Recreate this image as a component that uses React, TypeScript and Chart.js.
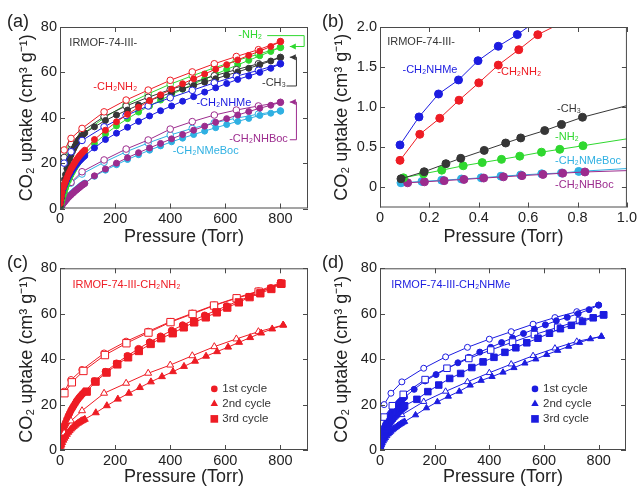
import React, { useEffect, useRef } from 'react';
import { Chart, registerables } from 'chart.js';

Chart.register(...registerables);

const FONT = '"Liberation Sans", Arial, Helvetica, sans-serif';
const TEXT = '#222222';
const FRAME = '#4a4a4a';
const RED = '#ee1c24';
const GREEN = '#2fd82f';
const GRAY = '#363636';
const BLUE = '#1c1ce0';
const PURPLE = '#9c2c8e';
const CYAN = '#2fb0e2';

// ---------- pressure grids (Torr) ----------
const P_LOW = [1, 3, 5, 8, 12, 16, 20, 25, 30, 35, 40, 45, 50, 55, 60, 65, 70, 75, 80, 85, 90];
const P_HIGH = [125, 165, 205, 245, 285, 325, 365, 405, 445, 485, 525, 565, 605, 645, 685, 725, 765, 800];
const P_DES = [800, 720, 640, 560, 480, 400, 320, 240, 160, 80, 40, 15];
const P2_HIGH = [130, 170, 210, 250, 290, 330, 370, 410, 450, 490, 530, 570, 610, 650, 690, 730, 770, 810];
const P2_DES = [810, 720, 640, 560, 480, 400, 320, 240, 160, 80, 40, 15];

// ---------- panel (a): uptake (cm3/g) ----------
const CH2NH2_LOW = [2.2, 4.0, 5.5, 7.3, 9.3, 10.8, 12.0, 13.5, 15.0, 16.2, 17.5, 18.5, 19.5, 20.5, 21.5, 22.3, 23.1, 23.8, 24.5, 25.1, 25.7];
const CH2NH2_HIGH = [30.4, 34.5, 38.2, 41.5, 44.6, 47.5, 50.1, 52.6, 55.0, 57.2, 59.3, 61.4, 63.4, 65.5, 67.5, 69.4, 71.4, 73.6];
const CH2NH2_DES = [73.6, 70.0, 67.0, 63.8, 60.2, 56.5, 52.2, 47.8, 42.6, 35.3, 30.9, 25.8];

const NH2_LOW = [0.6, 1.6, 2.6, 4.0, 5.8, 7.4, 8.9, 10.6, 12.2, 13.6, 14.9, 16.1, 17.2, 18.2, 19.2, 20.1, 21.0, 21.8, 22.6, 23.3, 24.0];
const NH2_HIGH = [28.6, 32.8, 36.4, 39.6, 42.5, 45.2, 47.8, 50.2, 52.6, 54.9, 57.1, 59.2, 61.3, 63.3, 65.3, 67.3, 69.2, 71.0];
const NH2_DES = [71.0, 68.0, 65.2, 62.0, 58.5, 54.8, 50.5, 45.8, 40.0, 32.5, 27.0, 21.0];

const CH3_LOW = [1.0, 2.9, 4.7, 7.3, 10.2, 12.8, 15.0, 17.6, 19.9, 21.9, 23.6, 25.1, 26.4, 27.6, 28.7, 29.6, 30.5, 31.3, 32.0, 32.7, 33.3];
const CH3_HIGH = [36.0, 38.8, 41.2, 43.4, 45.6, 47.6, 49.4, 51.1, 52.7, 54.2, 55.7, 57.2, 58.7, 60.2, 61.8, 63.4, 65.0, 66.6];
const CH3_DES = [66.6, 63.8, 61.2, 58.5, 55.5, 52.4, 49.0, 45.2, 40.5, 34.0, 28.5, 22.5];

const NHME_LOW = [2.8, 4.5, 5.6, 7.0, 8.6, 10.0, 11.2, 12.6, 13.9, 15.0, 16.0, 17.0, 17.9, 18.7, 19.5, 20.2, 20.9, 21.5, 22.1, 22.7, 23.2];
const NHME_HIGH = [26.7, 30.4, 33.2, 35.8, 38.4, 40.8, 43.1, 45.2, 47.3, 49.3, 51.3, 53.2, 55.1, 56.9, 58.4, 60.0, 61.8, 63.8];
const NHME_DES = [63.8, 60.9, 58.3, 55.4, 52.1, 48.8, 45.2, 41.0, 36.0, 30.0, 25.0, 20.0];

const NHBOC_LOW = [0.2, 0.6, 1.0, 1.5, 2.2, 2.8, 3.4, 4.1, 4.8, 5.4, 6.0, 6.6, 7.1, 7.7, 8.2, 8.7, 9.2, 9.7, 10.2, 10.6, 11.0];
const NHBOC_HIGH = [14.4, 17.4, 20.0, 22.4, 24.6, 26.7, 28.7, 30.7, 32.6, 34.5, 36.3, 38.0, 39.6, 41.2, 42.7, 44.2, 45.5, 46.8];
const NHBOC_DES = [46.8, 45.2, 43.4, 41.2, 38.3, 35.0, 30.2, 26.2, 21.4, 16.2, 11.5, 6.0];

const NMEBOC_LOW = [0.23, 0.7, 1.1, 1.7, 2.4, 3.0, 3.6, 4.3, 5.0, 5.6, 6.2, 6.8, 7.4, 7.9, 8.4, 8.9, 9.4, 9.9, 10.4, 10.8, 11.2];
const NMEBOC_HIGH = [14.2, 16.9, 19.3, 21.6, 23.7, 25.7, 27.6, 29.4, 31.0, 32.6, 34.1, 35.6, 37.0, 38.4, 39.7, 41.0, 42.0, 43.0];
const NMEBOC_DES = [43.0, 41.6, 39.8, 37.8, 35.3, 32.4, 28.9, 25.0, 20.4, 15.2, 11.2, 6.8];

// ---------- panel (b): low pressure (Torr) ----------
const B_NHME_P = [0.081, 0.158, 0.237, 0.318, 0.397, 0.479, 0.556, 0.64];
const B_NHME_U = [0.53, 0.879, 1.165, 1.34, 1.58, 1.76, 1.905, 2.09];
const B_CH2NH2_P = [0.081, 0.161, 0.242, 0.32, 0.4, 0.479, 0.562, 0.639, 0.76];
const B_CH2NH2_U = [0.3375, 0.6625, 0.8625, 1.0875, 1.304, 1.525, 1.717, 1.904, 2.09];
const B_CH3_P = [0.085, 0.179, 0.267, 0.327, 0.422, 0.509, 0.57, 0.667, 0.735, 0.82, 1.05];
const B_CH3_U = [0.108, 0.196, 0.296, 0.363, 0.462, 0.554, 0.617, 0.709, 0.784, 0.875, 1.06];
const B_NH2_P = [0.095, 0.176, 0.25, 0.337, 0.414, 0.492, 0.566, 0.654, 0.728, 0.822, 1.05];
const B_NH2_U = [0.12, 0.17, 0.215, 0.27, 0.31, 0.35, 0.39, 0.44, 0.475, 0.52, 0.63];
const B_NMEBOC_P = [0.085, 0.17, 0.25, 0.33, 0.41, 0.49, 0.57, 0.655, 0.735, 0.805, 1.05];
const B_NMEBOC_U = [0.058, 0.075, 0.09, 0.105, 0.12, 0.14, 0.155, 0.17, 0.18, 0.2, 0.245];
const B_NHBOC_P = [0.112, 0.18, 0.26, 0.34, 0.42, 0.5, 0.575, 0.66, 0.74, 0.83, 1.05];
const B_NHBOC_U = [0.058, 0.07, 0.085, 0.1, 0.117, 0.132, 0.147, 0.162, 0.178, 0.193, 0.215];

// ---------- panel (c): IRMOF-74-III-CH2NH2 cycles ----------
const C2_LOW = [0.8, 1.7, 2.4, 3.3, 4.3, 5.2, 6.0, 6.9, 7.8, 8.5, 9.2, 9.8, 10.4, 10.9, 11.4, 11.8, 12.2, 12.6, 12.9, 13.2, 13.5];
const C2_HIGH = [16.4, 19.5, 22.4, 25.0, 27.5, 30.0, 32.3, 34.5, 36.8, 39.1, 41.3, 43.3, 45.3, 47.4, 49.5, 51.5, 53.3, 55.0];
const C2_DES = [55.0, 52.1, 48.9, 45.5, 41.5, 37.4, 33.8, 29.4, 25.0, 17.3, 12.8, 7.5];
const C3_P = [97, 129, 169, 208, 247, 286, 329, 367, 409, 449, 487, 529, 569, 607, 649, 688, 727, 767, 803];
const C3_U = [25.7, 30.1, 34.1, 37.7, 40.8, 43.6, 46.7, 49.2, 51.4, 54.0, 56.2, 58.4, 60.6, 62.7, 65.0, 67.3, 69.0, 70.9, 73.2];
const C3_DES_P = [803, 721, 641, 559, 481, 401, 321, 241, 163, 85, 43, 16];
const C3_DES_U = [73.2, 69.7, 66.8, 63.6, 59.9, 56.3, 51.7, 47.0, 41.8, 34.8, 29.8, 25.0];

// ---------- panel (d): IRMOF-74-III-CH2NHMe cycles ----------
const D2_LOW = [0.8, 1.6, 2.2, 3.0, 3.9, 4.7, 5.4, 6.2, 7.0, 7.6, 8.2, 8.8, 9.3, 9.8, 10.2, 10.7, 11.1, 11.5, 11.8, 12.2, 12.5];
const D2_HIGH = [15.4, 18.5, 21.2, 23.6, 25.8, 28.5, 30.6, 32.3, 34.2, 36.2, 38.2, 40.0, 42.0, 43.8, 45.6, 47.3, 48.9, 50.0];
const D2_DES = [50.0, 47.8, 44.8, 41.5, 37.8, 34.0, 30.0, 25.8, 21.3, 15.5, 11.0, 6.0];
const D3_P_HIGH = [135, 175, 215, 255, 295, 336, 377, 417, 457, 497, 537, 578, 620, 660, 700, 741, 780, 818];
const D3_LOW = [1.5, 3.0, 4.0, 5.3, 6.8, 8.0, 9.1, 10.3, 11.4, 12.3, 13.2, 14.0, 14.8, 15.5, 16.2, 16.8, 17.4, 18.0, 18.5, 19.0, 19.5];
const D3_HIGH = [22.3, 25.7, 28.6, 31.5, 33.7, 36.3, 38.8, 40.8, 43.0, 45.0, 47.2, 49.2, 51.4, 53.4, 54.9, 56.6, 58.2, 59.5];
const D3_DES_P = [818, 730, 650, 565, 485, 405, 325, 245, 165, 85, 45, 15];
const D3_DES_U = [59.5, 57.0, 54.0, 50.8, 47.5, 44.0, 40.3, 36.0, 31.0, 24.5, 19.5, 14.5];

// ---------- axis ticks ----------
const TORR_TICKS = [0, 200, 400, 600, 800];
const UPTAKE_TICKS = [0, 20, 40, 60, 80];
const LOWP_TICKS = [0, 0.2, 0.4, 0.6, 0.8, 1.0];
const LOWU_TICKS = [0, 0.5, 1.0, 1.5, 2.0];
const CYCLE_NAMES = ['1st cycle', '2nd cycle', '3rd cycle'];

const P_ADS = [...P_LOW, ...P_HIGH];
const P2_ADS = [...P_LOW, ...P2_HIGH];
const D3_P = [...P_LOW, ...D3_P_HIGH];

type Pt = { x: number; y: number };
const pts = (xs: number[], ys: number[]): Pt[] => xs.map((x, i) => ({ x, y: ys[i] }));

function series(xs: number[], ys: number[], color: string, style: string, open: boolean, r: number, order: number) {
  return {
    data: pts(xs, ys),
    showLine: true,
    borderColor: color,
    borderWidth: 1,
    backgroundColor: open ? '#ffffff' : color,
    pointStyle: style,
    pointRadius: r,
    pointHoverRadius: r,
    pointBorderColor: color,
    pointBackgroundColor: open ? '#ffffff' : color,
    pointBorderWidth: 1,
    tension: 0,
    order,
  };
}

const intFmt = (v: number) => String(v);
const decFmt = (v: number) => (v === 0 ? '0' : v.toFixed(1));

type Label = { text: string; x: number; y: number; color: string; size?: number };
type Bracket = { color: string; path: number[][] };
type Spec = {
  key: string;
  left: number; top: number; w: number; h: number;
  area: { left: number; right: number; top: number; bottom: number };
  x: { min: number; max: number; ticks: number[]; fmt: (v: number) => string };
  y: { min: number; max: number; ticks: number[]; fmt: (v: number) => string };
  yTitlePad: number;
  letter: string; letterX: number; letterY: number;
  datasets: any[];
  labels: Label[];
  brackets: Bracket[];
  legend?: { x: number; y: number; color: string; sizes: number[] };
};

function drawMarker(ctx: CanvasRenderingContext2D, style: string, x: number, y: number, r: number, color: string) {
  ctx.beginPath();
  if (style === 'circle') {
    ctx.arc(x, y, r, 0, Math.PI * 2);
  } else if (style === 'triangle') {
    ctx.moveTo(x, y - r);
    ctx.lineTo(x + r * 0.866, y + r * 0.5);
    ctx.lineTo(x - r * 0.866, y + r * 0.5);
    ctx.closePath();
  } else {
    const h = r * Math.SQRT1_2;
    ctx.rect(x - h, y - h, 2 * h, 2 * h);
  }
  ctx.fillStyle = color;
  ctx.fill();
}

function decor(s: Spec) {
  return {
    id: 'decor_' + s.key,
    afterDraw(chart: any) {
      const { ctx, chartArea: a, scales } = chart;
      const xs = scales.x;
      const ys = scales.y;
      ctx.save();
      // frame
      ctx.strokeStyle = FRAME;
      ctx.lineWidth = 1;
      ctx.strokeRect(a.left + 0.5, a.top + 0.5, a.right - a.left - 1, a.bottom - a.top - 1);
      // inward ticks on all four sides
      ctx.beginPath();
      for (const v of s.x.ticks) {
        const p = Math.round(xs.getPixelForValue(v)) + 0.5;
        ctx.moveTo(p, a.bottom);
        ctx.lineTo(p, a.bottom - 5);
        ctx.moveTo(p, a.top);
        ctx.lineTo(p, a.top + 5);
      }
      for (const v of s.y.ticks) {
        const p = Math.round(ys.getPixelForValue(v)) + 0.5;
        ctx.moveTo(a.left, p);
        ctx.lineTo(a.left + 5, p);
        ctx.moveTo(a.right, p);
        ctx.lineTo(a.right - 5, p);
      }
      ctx.stroke();
      // brackets with arrowheads
      for (const b of s.brackets) {
        ctx.strokeStyle = b.color;
        ctx.fillStyle = b.color;
        ctx.lineWidth = 1;
        ctx.beginPath();
        b.path.forEach((q, i) => {
          const px = xs.getPixelForValue(q[0]);
          const py = ys.getPixelForValue(q[1]);
          if (i === 0) ctx.moveTo(px, py);
          else ctx.lineTo(px, py);
        });
        ctx.stroke();
        const tip = b.path[b.path.length - 1];
        const tx = xs.getPixelForValue(tip[0]);
        const ty = ys.getPixelForValue(tip[1]);
        ctx.beginPath();
        ctx.moveTo(tx, ty);
        ctx.lineTo(tx + 6, ty - 3);
        ctx.lineTo(tx + 6, ty + 3);
        ctx.closePath();
        ctx.fill();
      }
      // text labels
      ctx.textAlign = 'left';
      ctx.textBaseline = 'middle';
      for (const l of s.labels) {
        ctx.font = `${l.size || 11}px ${FONT}`;
        ctx.fillStyle = l.color;
        ctx.fillText(l.text, xs.getPixelForValue(l.x), ys.getPixelForValue(l.y));
      }
      // legend
      if (s.legend) {
        const lx = xs.getPixelForValue(s.legend.x);
        const ly = ys.getPixelForValue(s.legend.y);
        const styles = ['circle', 'triangle', 'rect'];
        styles.forEach((st, i) => {
          const yy = ly + i * 15;
          drawMarker(ctx, st, lx, yy, s.legend!.sizes[i], s.legend!.color);
          ctx.font = `11.5px ${FONT}`;
          ctx.fillStyle = '#333333';
          ctx.fillText(CYCLE_NAMES[i], lx + 8, yy);
        });
      }
      // panel letter
      ctx.font = `18px ${FONT}`;
      ctx.fillStyle = TEXT;
      ctx.fillText(s.letter, s.letterX, s.letterY);
      ctx.restore();
    },
  };
}

function buildConfig(s: Spec): any {
  const tickFont = { family: FONT, size: 14.5 };
  return {
    type: 'scatter',
    data: { datasets: s.datasets },
    options: {
      animation: false,
      responsive: false,
      events: [],
      layout: { padding: { left: 0, right: s.w - s.area.right, top: s.area.top, bottom: 0 } },
      plugins: { legend: { display: false }, tooltip: { enabled: false } },
      scales: {
        x: {
          type: 'linear',
          position: 'bottom',
          min: s.x.min,
          max: s.x.max,
          afterBuildTicks: (sc: any) => { sc.ticks = s.x.ticks.map((v) => ({ value: v })); },
          afterFit: (sc: any) => { sc.height = s.h - s.area.bottom; },
          grid: { display: false, drawTicks: false },
          border: { display: false },
          ticks: { font: tickFont, color: TEXT, padding: 2, maxRotation: 0, autoSkip: false, callback: (v: number) => s.x.fmt(v) },
          title: { display: true, text: 'Pressure (Torr)', font: { family: FONT, size: 18 }, color: TEXT, padding: { top: 0, bottom: 2.5 } },
        },
        y: {
          type: 'linear',
          position: 'left',
          min: s.y.min,
          max: s.y.max,
          afterBuildTicks: (sc: any) => { sc.ticks = s.y.ticks.map((v) => ({ value: v })); },
          afterFit: (sc: any) => { sc.width = s.area.left; },
          grid: { display: false, drawTicks: false },
          border: { display: false },
          ticks: { font: tickFont, color: TEXT, padding: 3, autoSkip: false, callback: (v: number) => s.y.fmt(v) },
          title: { display: true, text: 'CO₂ uptake (cm³ g⁻¹)', font: { family: FONT, size: 18 }, color: TEXT, padding: { top: s.yTitlePad, bottom: 0 } },
        },
      },
    },
    plugins: [decor(s)],
  };
}

const SPECS: Spec[] = [
  {
    key: 'a', left: 0, top: 0, w: 320, h: 250,
    area: { left: 60, right: 308, top: 27, bottom: 208.5 },
    x: { min: 0, max: 900, ticks: TORR_TICKS, fmt: intFmt },
    y: { min: 0, max: 80, ticks: UPTAKE_TICKS, fmt: intFmt },
    yTitlePad: 16,
    letter: '(a)', letterX: 7, letterY: 22.5,
    datasets: [
      series(P_ADS, CH2NH2_LOW.concat(CH2NH2_HIGH), RED, 'circle', false, 3, 0),
      series(P_DES, CH2NH2_DES, RED, 'circle', true, 3.3, 1),
      series(P_ADS, NHME_LOW.concat(NHME_HIGH), BLUE, 'circle', false, 3, 2),
      series(P_DES, NHME_DES, BLUE, 'circle', true, 3.3, 3),
      series(P_ADS, CH3_LOW.concat(CH3_HIGH), GRAY, 'circle', false, 3, 4),
      series(P_DES, CH3_DES, GRAY, 'circle', true, 3.3, 5),
      series(P_ADS, NH2_LOW.concat(NH2_HIGH), GREEN, 'circle', false, 3, 6),
      series(P_DES, NH2_DES, GREEN, 'circle', true, 3.3, 7),
      series(P_ADS, NHBOC_LOW.concat(NHBOC_HIGH), PURPLE, 'circle', false, 3, 8),
      series(P_DES, NHBOC_DES, PURPLE, 'circle', true, 3.3, 9),
      series(P_ADS, NMEBOC_LOW.concat(NMEBOC_HIGH), CYAN, 'circle', false, 3, 10),
      series(P_DES, NMEBOC_DES, CYAN, 'circle', true, 3.3, 11),
    ],
    labels: [
      { text: 'IRMOF-74-III-', x: 34, y: 72.9, color: GRAY },
      { text: '-CH₂NH₂', x: 121, y: 53.5, color: RED },
      { text: '-NH₂', x: 647, y: 76.6, color: GREEN },
      { text: '-CH₃', x: 733, y: 55.3, color: GRAY },
      { text: '-CH₂NHMe', x: 495, y: 46.5, color: BLUE },
      { text: '-CH₂NHBoc', x: 614, y: 30.6, color: PURPLE },
      { text: '-CH₂NMeBoc', x: 409, y: 25.2, color: CYAN },
    ],
    brackets: [
      { color: GREEN, path: [[752, 76.2], [886, 76.2], [886, 71.4], [834, 71.4]] },
      { color: GRAY, path: [[822, 54.0], [858, 54.0], [858, 66.7], [834, 66.7]] },
      { color: PURPLE, path: [[834, 30.3], [858, 30.3], [858, 46.9], [834, 46.9]] },
    ],
  },
  {
    key: 'b', left: 320, top: 0, w: 319, h: 250,
    area: { left: 60, right: 307, top: 27, bottom: 207.5 },
    x: { min: 0, max: 1.0, ticks: LOWP_TICKS, fmt: decFmt },
    y: { min: -0.25, max: 2.0, ticks: LOWU_TICKS, fmt: decFmt },
    yTitlePad: 11,
    letter: '(b)', letterX: 2, letterY: 22.5,
    datasets: [
      series(B_NHME_P, B_NHME_U, BLUE, 'circle', false, 4, 0),
      series(B_CH2NH2_P, B_CH2NH2_U, RED, 'circle', false, 4, 1),
      series(B_CH3_P, B_CH3_U, GRAY, 'circle', false, 4, 2),
      series(B_NH2_P, B_NH2_U, GREEN, 'circle', false, 4, 3),
      series(B_NHBOC_P, B_NHBOC_U, PURPLE, 'circle', false, 4, 4),
      series(B_NMEBOC_P, B_NMEBOC_U, CYAN, 'circle', false, 4, 5),
    ],
    labels: [
      { text: 'IRMOF-74-III-', x: 0.029, y: 1.81, color: GRAY },
      { text: '-CH₂NHMe', x: 0.091, y: 1.46, color: BLUE },
      { text: '-CH₂NH₂', x: 0.475, y: 1.435, color: RED },
      { text: '-CH₃', x: 0.717, y: 0.975, color: GRAY },
      { text: '-NH₂', x: 0.709, y: 0.627, color: GREEN },
      { text: '-CH₂NMeBoc', x: 0.709, y: 0.328, color: CYAN },
      { text: '-CH₂NHBoc', x: 0.709, y: 0.03, color: PURPLE },
    ],
    brackets: [],
  },
  {
    key: 'c', left: 0, top: 245, w: 320, h: 245,
    area: { left: 60, right: 308, top: 23.3, bottom: 205 },
    x: { min: 0, max: 900, ticks: TORR_TICKS, fmt: intFmt },
    y: { min: 0, max: 80, ticks: UPTAKE_TICKS, fmt: intFmt },
    yTitlePad: 16,
    letter: '(c)', letterX: 7, letterY: 18.5,
    datasets: [
      series(C3_P, C3_U, RED, 'rect', false, 5.2, 0),
      series(C3_DES_P, C3_DES_U, RED, 'rect', true, 5.2, 1),
      series(P2_ADS, C2_LOW.concat(C2_HIGH), RED, 'triangle', false, 4, 2),
      series(P2_DES, C2_DES, RED, 'triangle', true, 4, 3),
      series(P_ADS, CH2NH2_LOW.concat(CH2NH2_HIGH), RED, 'circle', false, 3.3, 4),
      series(P_DES, CH2NH2_DES, RED, 'circle', true, 3.3, 5),
    ],
    labels: [{ text: 'IRMOF-74-III-CH₂NH₂', x: 45, y: 72.7, color: RED }],
    brackets: [],
    legend: { x: 560, y: 26.9, color: RED, sizes: [3.3, 4.3, 5.4] },
  },
  {
    key: 'd', left: 320, top: 245, w: 319, h: 245,
    area: { left: 60, right: 306, top: 23.3, bottom: 205 },
    x: { min: 0, max: 900, ticks: TORR_TICKS, fmt: intFmt },
    y: { min: 0, max: 80, ticks: UPTAKE_TICKS, fmt: intFmt },
    yTitlePad: 11,
    letter: '(d)', letterX: 2, letterY: 18.5,
    datasets: [
      series(D3_P, D3_LOW.concat(D3_HIGH), BLUE, 'rect', false, 4.6, 0),
      series(D3_DES_P, D3_DES_U, BLUE, 'rect', true, 4.6, 1),
      series(P2_ADS, D2_LOW.concat(D2_HIGH), BLUE, 'triangle', false, 3.6, 2),
      series(P2_DES, D2_DES, BLUE, 'triangle', true, 3.6, 3),
      series(P_ADS, NHME_LOW.concat(NHME_HIGH), BLUE, 'circle', false, 3, 4),
      series(P_DES, NHME_DES, BLUE, 'circle', true, 3, 5),
    ],
    labels: [{ text: 'IRMOF-74-III-CH₂NHMe', x: 41, y: 72.7, color: BLUE }],
    brackets: [],
    legend: { x: 567, y: 26.9, color: BLUE, sizes: [3.3, 4.3, 5.4] },
  },
];

function Panel({ spec }: { spec: Spec }) {
  const ref = useRef<HTMLCanvasElement>(null);
  useEffect(() => {
    if (!ref.current) return;
    const chart = new Chart(ref.current, buildConfig(spec));
    return () => chart.destroy();
  }, [spec]);
  return (
    <canvas
      ref={ref}
      width={spec.w}
      height={spec.h}
      style={{ position: 'absolute', left: spec.left, top: spec.top, width: spec.w, height: spec.h }}
    />
  );
}

export default function App() {
  return (
    <div style={{ position: 'absolute', left: 0, top: 0, width: 639, height: 490, background: '#ffffff', overflow: 'hidden' }}>
      {SPECS.map((s) => (
        <Panel key={s.key} spec={s} />
      ))}
    </div>
  );
}
